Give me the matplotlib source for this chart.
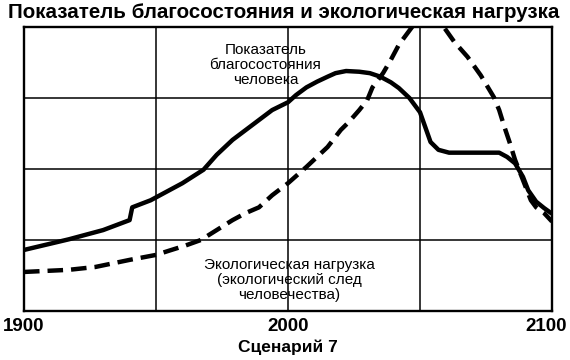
import matplotlib
matplotlib.use("Agg")
import matplotlib.pyplot as plt
import matplotlib.transforms as mtransforms

plt.rcParams['font.family'] = ['Liberation Sans', 'DejaVu Sans']

# показатель благосостояния человека (сплошная линия)
welfare_years = [1900, 1917, 1930, 1940, 1941, 1948, 1954, 1960, 1968, 1973, 1979,
                 1984, 1989, 1994, 2000, 2003, 2007, 2011, 2015, 2018, 2022, 2027,
                 2031, 2035, 2039, 2042, 2046, 2050, 2052, 2054, 2057, 2061, 2070,
                 2080, 2083, 2086, 2089, 2091, 2094, 2097, 2100]
welfare_vals = [0.86, 1.01, 1.14, 1.28, 1.46, 1.56, 1.68, 1.80, 1.99, 2.20, 2.41,
                2.55, 2.69, 2.83, 2.94, 3.04, 3.15, 3.23, 3.30, 3.35, 3.38, 3.37,
                3.35, 3.30, 3.22, 3.14, 3.00, 2.80, 2.59, 2.38, 2.27, 2.23, 2.23,
                2.23, 2.17, 2.08, 1.89, 1.70, 1.54, 1.45, 1.37]

# экологическая нагрузка (пунктир)
eco_years = [1900, 1917, 1927, 1940, 1950, 1955, 1961, 1967, 1973, 1979, 1984,
             1989, 1994, 2000, 2007, 2015, 2020, 2023, 2027, 2030, 2032, 2036,
             2039, 2042, 2047, 2052, 2059, 2063, 2068, 2073, 2078, 2080, 2082,
             2084, 2086, 2088, 2090, 2092, 2094, 2097, 2100]
eco_vals = [0.55, 0.58, 0.62, 0.72, 0.79, 0.85, 0.92, 1.00, 1.14, 1.28, 1.38,
            1.46, 1.63, 1.80, 2.03, 2.31, 2.55, 2.66, 2.83, 2.97, 3.15, 3.35,
            3.54, 3.75, 4.00, 4.30, 4.00, 3.79, 3.58, 3.32, 3.01, 2.83, 2.59,
            2.37, 2.13, 1.94, 1.75, 1.56, 1.46, 1.38, 1.26]

x_ticks = [1900, 2000, 2100]
x_grid = [1950, 2000, 2050]
y_grid = [1, 2, 3]

fig = plt.figure(figsize=(5.7, 3.6), dpi=100)
ax = fig.add_axes([0.0421, 0.1361, 0.9263, 0.7889])

for g in x_grid:
    ax.axvline(g, color='black', lw=1.1, zorder=1)
for g in y_grid:
    ax.axhline(g, color='black', lw=1.1, zorder=1)

ax.plot(welfare_years, welfare_vals, color='black', lw=3.2,
        solid_capstyle='butt', solid_joinstyle='round', zorder=3)
ax.plot(eco_years, eco_vals, color='black', lw=3.2, dashes=(3.5, 1.8),
        dash_capstyle='butt', dash_joinstyle='round', zorder=3)

ax.set_xlim(1900, 2100)
ax.set_ylim(0, 4)
ax.set_xticks(x_ticks)
ax.set_xticklabels([str(t) for t in x_ticks], fontsize=13.5, fontweight='bold')
ax.tick_params(axis='x', length=0, pad=5)
ax.set_yticks([])
for s in ax.spines.values():
    s.set_linewidth(1.7)

# подпись 2100 чуть левее, чтобы не обрезалась
lbls = ax.get_xticklabels()
lbls[-1].set_transform(lbls[-1].get_transform() +
                       mtransforms.ScaledTranslation(-6 / 100, 0, fig.dpi_scale_trans))

ax.set_xlabel('Сценарий 7', fontsize=12.5, fontweight='bold', labelpad=3)

ax.text(1991.5, 3.46, 'Показатель\nблагосостояния\nчеловека', ha='center', va='center',
        fontsize=11, linespacing=1.1)
ax.text(2000.5, 0.44, 'Экологическая нагрузка\n(экологический след\nчеловечества)',
        ha='center', va='center', fontsize=11, linespacing=1.1)

fig.text(0.014, 0.965, 'Показатель благосостояния и экологическая нагрузка',
         ha='left', va='center', fontsize=14.8, fontweight='bold')

fig.savefig('out.png', dpi=100)
